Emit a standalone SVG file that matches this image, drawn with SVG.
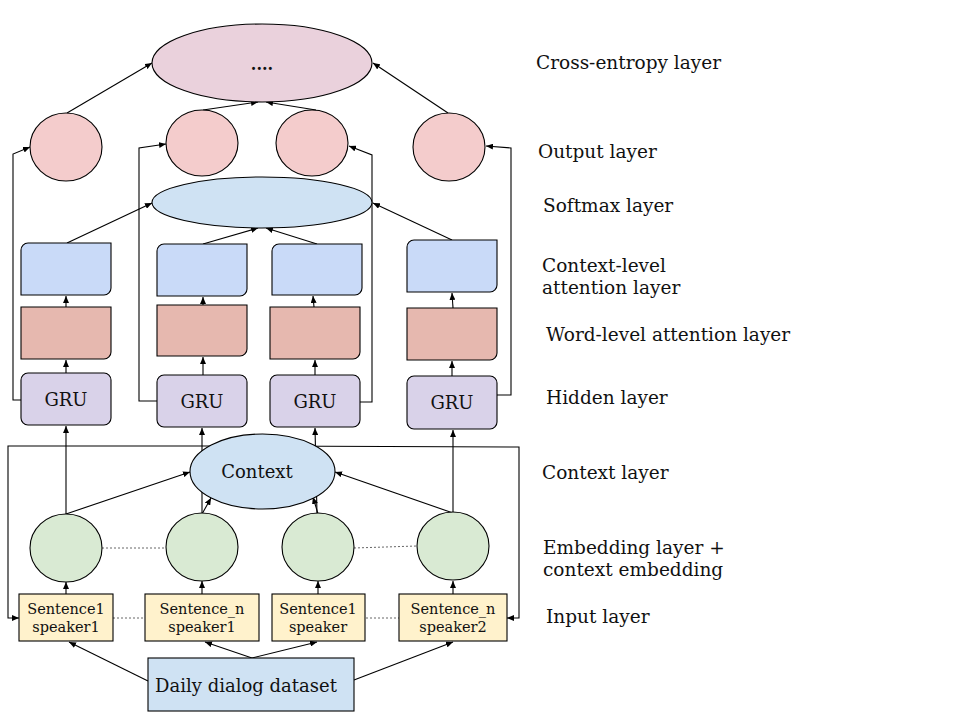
<svg xmlns="http://www.w3.org/2000/svg" width="960" height="720" viewBox="0 0 960 720">
  <defs>
    <marker id="arrow" markerUnits="userSpaceOnUse" markerWidth="8" markerHeight="6" refX="7" refY="3" orient="auto">
      <path d="M0,0 L7,3 L0,6 Z" fill="#000"/>
    </marker>
    <style>
      .edge { fill: none; stroke: #000; stroke-width: 1.1; marker-end: url(#arrow); }
      .dots { fill: none; stroke: #666; stroke-width: 1; stroke-dasharray: 2 2; }
      .node { stroke: #000; stroke-width: 1.1; }
      .ce { fill: #ead1dc; }
      .out { fill: #f4cccc; }
      .soft { fill: #cfe2f3; }
      .catt { fill: #c9daf8; }
      .watt { fill: #e6b8af; }
      .gru { fill: #d9d2e9; }
      .ctx { fill: #cfe2f3; }
      .emb { fill: #d9ead3; }
      .inp { fill: #fff2cc; }
      .data { fill: #cfe2f3; }
      text { font-family: "DejaVu Serif", "Liberation Serif", serif; fill: #111; }
      .lbl { font-size: 18.5px; }
      .in { font-size: 14.5px; text-anchor: middle; }
      .big { font-size: 18px; text-anchor: middle; }
    </style>
  </defs>

  <rect width="960" height="720" fill="#fff"/>

  <!-- connectors -->
  <g id="connectors">
    <!-- output layer to cross-entropy -->
    <line class="edge" x1="67" y1="113" x2="152" y2="63"/>
    <line class="edge" x1="448" y1="113" x2="373" y2="63"/>
    <line class="edge" x1="203" y1="110" x2="258" y2="102"/>
    <line class="edge" x1="316" y1="110" x2="266" y2="102"/>

    <!-- hidden state skips to output layer -->
    <polyline class="edge" points="21,400 13,400 13,154 30,147"/>
    <polyline class="edge" points="157,401 139,401 139,148 166,144"/>
    <polyline class="edge" points="360,402 372,402 372,155 349,146"/>
    <polyline class="edge" points="497,395 511,395 511,148 486,146"/>

    <!-- context-level attention to softmax -->
    <line class="edge" x1="67" y1="243" x2="152" y2="203"/>
    <line class="edge" x1="203" y1="244" x2="258" y2="228"/>
    <line class="edge" x1="317" y1="244" x2="266" y2="228"/>
    <line class="edge" x1="452" y1="240" x2="373" y2="203"/>

    <!-- word-level to context-level attention -->
    <line class="edge" x1="66" y1="307" x2="66" y2="296"/>
    <line class="edge" x1="203" y1="305" x2="203" y2="297"/>
    <line class="edge" x1="314" y1="307" x2="313" y2="296"/>
    <line class="edge" x1="453" y1="308" x2="452" y2="293"/>

    <!-- GRU to word-level attention -->
    <line class="edge" x1="66" y1="373" x2="66" y2="360"/>
    <line class="edge" x1="203" y1="375" x2="203" y2="357"/>
    <line class="edge" x1="315" y1="375" x2="315" y2="360"/>
    <line class="edge" x1="452" y1="376" x2="452" y2="361"/>

    <!-- context fan-out to the input boxes -->
    <polyline class="edge" points="262,446 8,446 8,618 19,618"/>
    <polyline class="edge" points="262,446 519,447 519,618 507,618"/>

    <!-- embeddings up to GRU -->
    <line class="edge" x1="66" y1="514" x2="66" y2="426"/>
    <line class="edge" x1="202" y1="514" x2="202" y2="428"/>
    <line class="edge" x1="317" y1="514" x2="315" y2="428"/>
    <line class="edge" x1="453" y1="513" x2="453" y2="430"/>

    <!-- embeddings to context -->
    <line class="edge" x1="66" y1="514" x2="190" y2="472"/>
    <line class="edge" x1="202" y1="514" x2="211" y2="498"/>
    <line class="edge" x1="318" y1="514" x2="313" y2="497"/>
    <line class="edge" x1="453" y1="513" x2="335" y2="472"/>

    <!-- inputs to embeddings -->
    <line class="edge" x1="66" y1="594" x2="66" y2="582"/>
    <line class="edge" x1="202" y1="594" x2="202" y2="581"/>
    <line class="edge" x1="318" y1="594" x2="318" y2="581"/>
    <line class="edge" x1="453" y1="594" x2="453" y2="581"/>

    <!-- dataset to inputs -->
    <line class="edge" x1="148" y1="681" x2="69" y2="642"/>
    <line class="edge" x1="252" y1="658" x2="205" y2="642"/>
    <line class="edge" x1="252" y1="658" x2="317" y2="642"/>
    <line class="edge" x1="354" y1="680" x2="453" y2="642"/>

    <!-- sequence continuation -->
    <line class="dots" x1="102" y1="548" x2="166" y2="548"/>
    <line class="dots" x1="354" y1="548" x2="417" y2="546"/>
    <line class="dots" x1="113" y1="618" x2="145" y2="618"/>
    <line class="dots" x1="366" y1="618" x2="399" y2="618"/>
  </g>

  <!-- cross-entropy layer -->
  <g id="cross-entropy">
    <ellipse class="node ce" cx="262" cy="63" rx="110" ry="39"/>
    <text x="262" y="70" style="font-size:16px;font-weight:bold;text-anchor:middle">....</text>
  </g>

  <!-- output layer -->
  <g id="out-1"><ellipse class="node out" cx="66" cy="147" rx="36" ry="34"/></g>
  <g id="out-2"><ellipse class="node out" cx="202" cy="143" rx="36" ry="33"/></g>
  <g id="out-3"><ellipse class="node out" cx="312" cy="143" rx="36" ry="33"/></g>
  <g id="out-4"><ellipse class="node out" cx="449" cy="147" rx="36" ry="34"/></g>

  <!-- softmax layer -->
  <g id="softmax"><ellipse class="node soft" cx="262" cy="202.5" rx="110" ry="25.5"/></g>

  <!-- context-level attention -->
  <g id="catt-1"><path class="node catt" d="M21,250 A7,7 0 0 1 28,243 L111,243 L111,288 A7,7 0 0 1 104,295 L21,295 Z"/></g>
  <g id="catt-2"><path class="node catt" d="M157,251 A7,7 0 0 1 164,244 L247,244 L247,289 A7,7 0 0 1 240,296 L157,296 Z"/></g>
  <g id="catt-3"><path class="node catt" d="M272,251 A7,7 0 0 1 279,244 L362,244 L362,288 A7,7 0 0 1 355,295 L272,295 Z"/></g>
  <g id="catt-4"><path class="node catt" d="M407,247 A7,7 0 0 1 414,240 L497,240 L497,285 A7,7 0 0 1 490,292 L407,292 Z"/></g>

  <!-- word-level attention -->
  <g id="watt-1"><path class="node watt" d="M21,307 L111,307 L111,352 A7,7 0 0 1 104,359 L21,359 Z"/></g>
  <g id="watt-2"><path class="node watt" d="M157,305 L247,305 L247,349 A7,7 0 0 1 240,356 L157,356 Z"/></g>
  <g id="watt-3"><path class="node watt" d="M270,307 L360,307 L360,352 A7,7 0 0 1 353,359 L270,359 Z"/></g>
  <g id="watt-4"><path class="node watt" d="M407,308 L497,308 L497,353 A7,7 0 0 1 490,360 L407,360 Z"/></g>

  <!-- hidden layer -->
  <g id="gru-1"><rect class="node gru" x="21" y="373" width="90" height="52" rx="7"/><text class="big" x="66" y="406">GRU</text></g>
  <g id="gru-2"><rect class="node gru" x="157" y="375" width="90" height="52" rx="7"/><text class="big" x="202" y="408">GRU</text></g>
  <g id="gru-3"><rect class="node gru" x="270" y="375" width="90" height="52" rx="7"/><text class="big" x="315" y="408">GRU</text></g>
  <g id="gru-4"><rect class="node gru" x="407" y="376" width="90" height="53" rx="7"/><text class="big" x="452" y="409">GRU</text></g>

  <!-- context layer -->
  <g id="context">
    <ellipse class="node ctx" cx="262.5" cy="471.5" rx="72.5" ry="37.5"/>
    <text class="big" x="257" y="478">Context</text>
  </g>

  <!-- embedding layer -->
  <g id="emb-1"><ellipse class="node emb" cx="66" cy="548" rx="36" ry="34"/></g>
  <g id="emb-2"><ellipse class="node emb" cx="202" cy="547" rx="36" ry="34"/></g>
  <g id="emb-3"><ellipse class="node emb" cx="318" cy="547" rx="36" ry="34"/></g>
  <g id="emb-4"><ellipse class="node emb" cx="453" cy="546" rx="36" ry="34"/></g>

  <!-- input layer -->
  <g id="in-1"><rect class="node inp" x="19" y="594" width="94" height="47"/><text class="in" x="66" y="614">Sentence1</text><text class="in" x="66" y="632">speaker1</text></g>
  <g id="in-2"><rect class="node inp" x="145" y="594" width="114" height="47"/><text class="in" x="202" y="614">Sentence_n</text><text class="in" x="202" y="632">speaker1</text></g>
  <g id="in-3"><rect class="node inp" x="272" y="594" width="93" height="47"/><text class="in" x="318" y="614">Sentence1</text><text class="in" x="318" y="632">speaker</text></g>
  <g id="in-4"><rect class="node inp" x="399" y="594" width="108" height="47"/><text class="in" x="453" y="614">Sentence_n</text><text class="in" x="453" y="632">speaker2</text></g>

  <!-- dataset -->
  <g id="dataset">
    <rect class="node data" x="148" y="658" width="206" height="53"/>
    <text class="big" x="246" y="692">Daily dialog dataset</text>
  </g>

  <!-- layer names -->
  <g id="labels">
    <text class="lbl" x="536" y="69">Cross-entropy layer</text>
    <text class="lbl" x="538" y="158">Output layer</text>
    <text class="lbl" x="543" y="212">Softmax layer</text>
    <text class="lbl" x="542" y="272">Context-level</text>
    <text class="lbl" x="542" y="294">attention layer</text>
    <text class="lbl" x="546" y="341">Word-level attention layer</text>
    <text class="lbl" x="546" y="404">Hidden layer</text>
    <text class="lbl" x="542" y="479">Context layer</text>
    <text class="lbl" x="543" y="554">Embedding layer +</text>
    <text class="lbl" x="543" y="576">context embedding</text>
    <text class="lbl" x="546" y="623">Input layer</text>
  </g>
</svg>
